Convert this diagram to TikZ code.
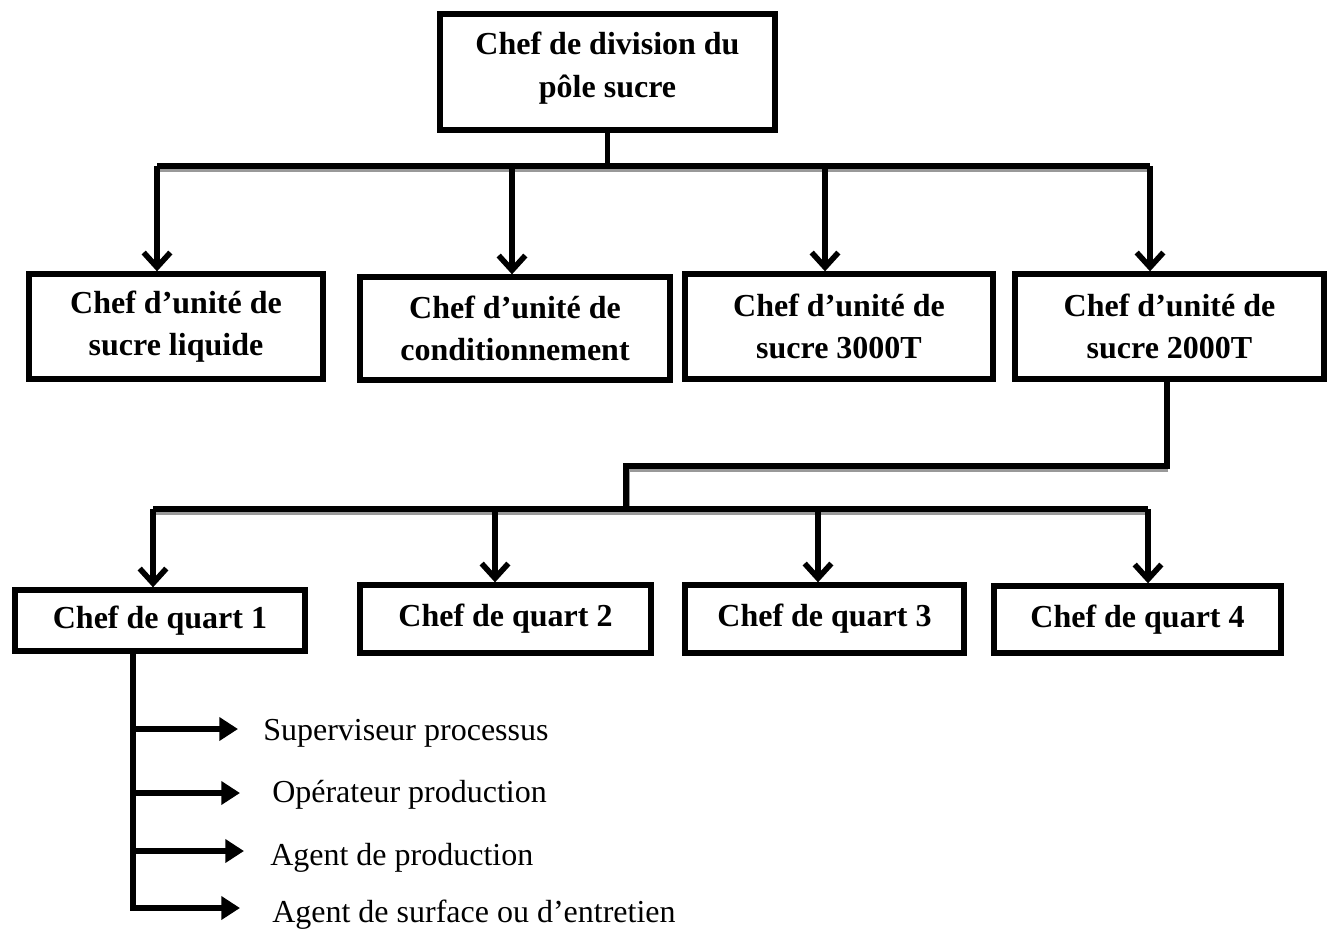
\documentclass[tikz,border=0pt]{standalone}
\usepackage{fontspec}
\setmainfont{Liberation Serif}
\usetikzlibrary{arrows.meta}
\begin{document}
\begin{tikzpicture}[x=0.75pt,y=-0.75pt,
  box/.style={draw, line width=4pt, inner sep=0pt, align=center,
    font=\fontsize{24pt}{32pt}\selectfont\bfseries},
  conn/.style={line width=4.2pt},
  shade/.style={line width=4.2pt, draw=black!40, transform canvas={shift={(1.1pt,-2.6pt)}}},
  downarrow/.style={conn, -{Straight Barb[length=11pt,width=20pt]}},
  sidearrow/.style={conn, -{Triangle[length=14pt,width=17pt]}},
  lab/.style={anchor=base west, inner sep=0pt, font=\fontsize{24pt}{28pt}\selectfont}
]
\useasboundingbox (0,0) rectangle (1333,932);

% boxes
\node[box, minimum width=251.25pt, minimum height=87pt] (top) at (607.5,72) {};
\node (toptext) at (607.5,68) [align=center, inner sep=0pt,
    font=\fontsize{24pt}{32pt}\selectfont\bfseries] {Chef de division du\\pôle sucre};
\node[box, minimum width=220.5pt, minimum height=78.75pt] (b1) at (176,326.5)
  {Chef d’unité de\\sucre liquide};
\node[box, minimum width=232.5pt, minimum height=77.25pt] (b2) at (515,328.5)
  {Chef d’unité de\\conditionnement};
\node[box, minimum width=231pt, minimum height=78.75pt] (b3) at (839,326.5)
  {Chef d’unité de\\sucre 3000T};
\node[box, minimum width=231.75pt, minimum height=78.75pt] (b4) at (1169.5,326.5)
  {Chef d’unité de\\sucre 2000T};

\node[box, minimum width=217.5pt, minimum height=45.75pt] (q1) at (160,620.5) {Chef de quart 1};
\node[box, minimum width=218.25pt, minimum height=51pt] (q2) at (505.5,619) {Chef de quart 2};
\node[box, minimum width=209.25pt, minimum height=51pt] (q3) at (824.5,619) {Chef de quart 3};
\node[box, minimum width=215.25pt, minimum height=50.25pt] (q4) at (1137.5,619.5) {Chef de quart 4};

% labels
\node[lab] (l1) at (263,740) {Superviseur processus};
\node[lab] (l2) at (272,802) {Opérateur production};
\node[lab] (l3) at (270,865) {Agent de production};
\node[lab] (l4) at (272,922) {Agent de surface ou d’entretien};

% first level connectors
\coordinate (bus1L) at (157,166);
\coordinate (bus1R) at (1150,166);
\coordinate (d2) at (512,166);
\coordinate (d3) at (825,166);
\draw[shade] (bus1L) -- (bus1R);
\draw[conn] (top.south) -- (top.south |- bus1L);
\draw[conn] (bus1L) -- (bus1R);
\draw[downarrow] (bus1L) -- (bus1L |- b1.north);
\draw[downarrow] (d2) -- (d2 |- b2.north);
\draw[downarrow] (d3) -- (d3 |- b3.north);
\draw[downarrow] (bus1R) -- (bus1R |- b4.north);

% second level connectors
\coordinate (e1) at (1167,466);
\coordinate (e2) at (626,466);
\coordinate (bus2L) at (153,509);
\coordinate (bus2R) at (1148,509);
\coordinate (f2) at (495,509);
\coordinate (f3) at (818,509);
\draw[shade] (e1) -- (e2) -- (e2 |- bus2L);
\draw[shade] (bus2L) -- (bus2R);
\draw[conn] (b4.south -| e1) -- (e1) -- (e2) -- (e2 |- bus2L);
\draw[conn] (bus2L) -- (bus2R);
\draw[downarrow] (bus2L) -- (bus2L |- q1.north);
\draw[downarrow] (f2) -- (f2 |- q2.north);
\draw[downarrow] (f3) -- (f3 |- q3.north);
\draw[downarrow] (bus2R) -- (bus2R |- q4.north);

% third level
\coordinate (vb) at (133,911);
\coordinate (a1) at (133,729);
\coordinate (a2) at (133,793);
\coordinate (a3) at (133,851);
\coordinate (a4) at (133,908);
\coordinate (t1) at (238,729);
\coordinate (t2) at (240,793);
\coordinate (t3) at (244,851);
\coordinate (t4) at (240,908);
\draw[conn] (q1.south -| vb) -- (vb);
\draw[sidearrow] (a1) -- (t1);
\draw[sidearrow] (a2) -- (t2);
\draw[sidearrow] (a3) -- (t3);
\draw[sidearrow] (a4) -- (t4);
\end{tikzpicture}
\end{document}
